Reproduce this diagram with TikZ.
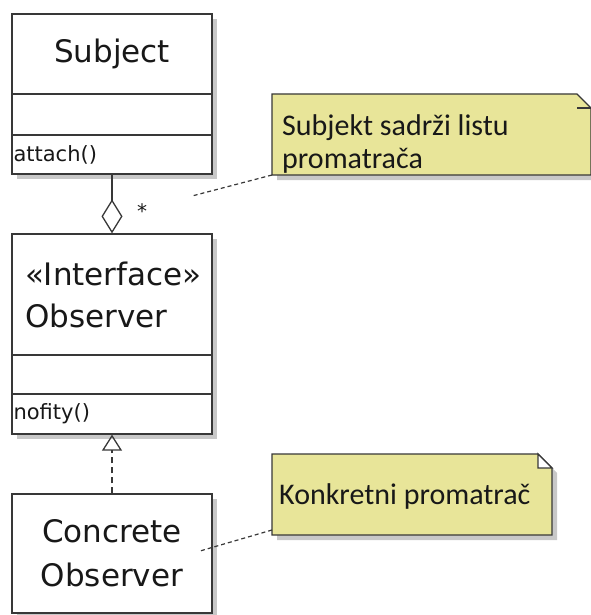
\documentclass[tikz,border=0pt]{standalone}
\usepackage{fontspec}
\setmainfont{DejaVu Sans}
\newfontfamily\policeNote{Carlito}
\usetikzlibrary{arrows.meta,shadows}
\definecolor{trait}{RGB}{56,56,56}
\definecolor{texte}{RGB}{24,24,24}
\definecolor{ombre}{RGB}{200,200,200}
\definecolor{jaune}{RGB}{232,229,153}
\begin{document}
\begin{tikzpicture}[x=1pt,y=-1pt]
% Styles (MODIFIABLES)
\tikzstyle{compartiment}=[draw=trait,fill=white,line width=1.3pt,minimum width=200pt,inner sep=0pt,text=texte,drop shadow={shadow xshift=5pt,shadow yshift=-5pt,fill=ombre,opacity=1}]
\tikzstyle{nom}=[compartiment,font=\fontsize{31}{44}\selectfont,align=center]
\tikzstyle{nomgauche}=[compartiment,font=\fontsize{31}{42}\selectfont,text width=174pt,inner xsep=13pt,align=left]
\tikzstyle{operation}=[compartiment,font=\fontsize{21}{24}\selectfont,text width=197pt,inner xsep=1.5pt,align=left]
\tikzstyle{corpsnote}=[inner sep=0pt,outer sep=0pt,minimum height=81pt]
\tikzstyle{note}=[draw=trait,fill=jaune,line width=1.3pt,drop shadow={shadow xshift=5pt,shadow yshift=-5pt,fill=ombre,opacity=1}]
\tikzstyle{pli}=[draw=trait,fill=white,line width=1.3pt]
\tikzstyle{textenote}=[font=\policeNote\fontsize{30}{33}\selectfont,text=texte,align=left,inner sep=0pt,anchor=north west]
\tikzstyle{fleche}=[draw=trait,line width=1.3pt]
\tikzstyle{realisation}=[draw=trait,line width=1.3pt,dash pattern=on 6pt off 4pt]
\tikzstyle{lien}=[draw=trait,line width=1.2pt,dash pattern=on 4pt off 3pt]
\tikzstyle{etiquette}=[font=\fontsize{20}{20}\selectfont,text=texte,inner sep=0pt]
% Dimensions (MODIFIABLES)
\def\CentreClasses{112}
\def\Pli{14pt}
\useasboundingbox (0,0) rectangle (590,615);
% Classe Subject
\node[nom,minimum height=80pt] (SubjNom) at (\CentreClasses,54) {Subject};
\node[compartiment,minimum height=41pt] (SubjAttr) at (\CentreClasses,114.5) {};
\node[operation,minimum height=39pt] (SubjOps) at (\CentreClasses,154.5) {attach()};
% Classe Observer
\node[nomgauche,minimum height=121pt] (ObsNom) at (\CentreClasses,294.5) {«Interface»\\Observer};
\node[compartiment,minimum height=39pt] (ObsAttr) at (\CentreClasses,374.5) {};
\node[operation,minimum height=40pt] (ObsOps) at (\CentreClasses,414) {nofity()};
% Classe Concrete Observer
\node[nom,minimum height=119pt] (ConcNom) at (\CentreClasses,553.5) {Concrete\\Observer};
% Liens
\draw[fleche,{Diamond[open,length=34pt,width=21pt]}-] (ObsNom.north) -- (SubjOps.south);
\node[etiquette] (Mult) at (142,211) {*};
\draw[realisation,-{Triangle[open,length=16pt,width=20pt]}] (ConcNom.north) -- (ObsOps.south);
% Notes
\node[corpsnote,minimum width=319pt] (Note1) at (431.5,134.5) {};
\draw[note] (Note1.south west) -- (Note1.north west) -- ([xshift=-\Pli]Note1.north east) -- ([yshift=-\Pli]Note1.north east) -- (Note1.south east) -- cycle;
\draw[fleche] ([xshift=-\Pli,yshift=-\Pli]Note1.north east) -- ([yshift=-\Pli]Note1.north east);
\node[textenote] (TexteNote1) at (282,114) {Subjekt sadrži listu\\promatrača};
\node[corpsnote,minimum width=280pt] (Note2) at (412,494.5) {};
\draw[note] (Note2.south west) -- (Note2.north west) -- ([xshift=-\Pli]Note2.north east) -- ([yshift=-\Pli]Note2.north east) -- (Note2.south east) -- cycle;
\draw[pli] ([xshift=-\Pli]Note2.north east) -- ([xshift=-\Pli,yshift=-\Pli]Note2.north east) -- ([yshift=-\Pli]Note2.north east) -- cycle;
\node[textenote] (TexteNote2) at (279,483) {Konkretni promatrač};
% Ancrages des notes
\coordinate (Fin1) at (192,196);
\coordinate (Fin2) at (200,551);
\draw[lien] (Note1.south west) -- (Fin1);
\draw[lien] ([yshift=5pt]Note2.south west) -- (Fin2);
\end{tikzpicture}
\end{document}
